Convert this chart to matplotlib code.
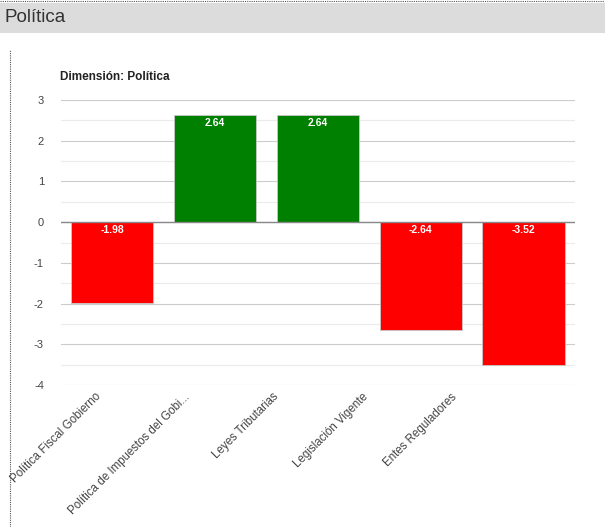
import matplotlib.pyplot as plt
import matplotlib.transforms as mtransforms
import numpy as np
from matplotlib.patches import Rectangle
from matplotlib.lines import Line2D

plt.rcParams['font.family'] = ['Liberation Sans', 'DejaVu Sans']
plt.rcParams['axes.unicode_minus'] = False

categorias = ['Política Fiscal Gobierno', 'Política de Impuestos del Gobi...',
              'Leyes Tributarias', 'Legislación Vigente', 'Entes Reguladores']
valores = [-1.98, 2.64, 2.64, -2.64, -3.52]
ticks_y = [-4, -3, -2, -1, 0, 1, 2, 3]

fig = plt.figure(figsize=(6.05, 5.27), dpi=100)

# cabecera gris
fig.patches.append(Rectangle((0, 1 - 33 / 527), 1, 30 / 527, transform=fig.transFigure,
                             facecolor='#dcdcdc', edgecolor='none', zorder=0))
fig.lines.append(Line2D([0, 1], [0.999, 0.999], transform=fig.transFigure,
                        color='#555555', lw=0.8, ls=(0, (1, 1))))
fig.lines.append(Line2D([10 / 605, 10 / 605], [0, 1 - 50 / 527], transform=fig.transFigure,
                        color='#555555', lw=0.8, ls=(0, (1, 1))))
fig.text(5 / 605, 1 - 18 / 527, 'Política', fontsize=13.5, color='#333333', va='center', ha='left')
fig.text(60 / 605, 1 - 77 / 527, 'Dimensión: Política', fontsize=8.5, fontweight='bold',
         color='#222222', va='center', ha='left')

ax = fig.add_axes([60.6 / 605, 1 - 385 / 527, (575 - 60.6) / 605, 285 / 527])
x = np.arange(len(categorias))
colores = ['#008000' if v > 0 else '#ff0000' for v in valores]
ax.bar(x, valores, width=0.8, color=colores, edgecolor='#c8c8c8', linewidth=0.6, zorder=3)

for xi, v in zip(x, valores):
    ax.text(xi, v - 0.08 if v > 0 else -0.08, f'{v:.2f}', ha='center', va='top',
            color='white', fontsize=7.5, fontweight='bold', zorder=4)

ax.set_xlim(-0.5, len(categorias) - 0.5)
ax.set_ylim(-4, 3)
ax.set_yticks(ticks_y)
ax.set_yticks(np.arange(-3.5, 3, 1), minor=True)
ax.grid(axis='y', which='major', color='#cccccc', lw=0.8, zorder=0)
ax.grid(axis='y', which='minor', color='#ebebeb', lw=0.8, zorder=0)
ax.axhline(0, color='#888888', lw=1, zorder=4)
for s in ax.spines.values():
    s.set_visible(False)
ax.tick_params(axis='y', which='both', length=0, labelsize=8, labelcolor='#444444', pad=12)
ax.tick_params(axis='x', length=0, labelsize=8.3, labelcolor='#444444', pad=2)
ax.set_xticks(x)
ax.set_xticklabels(categorias, rotation=45, ha='right', rotation_mode='anchor')

# las etiquetas rotadas quedan algo a la izquierda del centro de cada barra
for i, lab in enumerate(ax.get_xticklabels()):
    dx = -(17 + 14 * i) / 100
    lab.set_transform(lab.get_transform() + mtransforms.ScaledTranslation(dx, -0.03, fig.dpi_scale_trans))

plt.savefig('out.png', dpi=100)
